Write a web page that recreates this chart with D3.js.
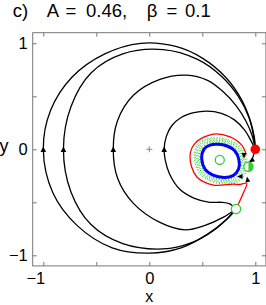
<!DOCTYPE html>
<html>
<head>
<meta charset="utf-8">
<script src="https://cdn.jsdelivr.net/npm/d3@7"></script>
<style>
  body { margin: 0; background: #fff; }
  svg text { font-family: "Liberation Sans", Arial, Helvetica, sans-serif; fill: #000; }
</style>
</head>
<body>
<svg width="266" height="305"></svg>
<script>
// trajectories (data coords), from the unstable node
// at the bottom, round the left side, to the stable node at (1,0)
var traj1 = [[0.818,-0.563],[0.72,-0.67],[0.55,-0.8],[0.3,-0.93],[0,-0.98],[-0.35,-0.93],[-0.68,-0.72],
  [-0.91,-0.41],[-1,0],[-0.93,0.37],[-0.73,0.68],[-0.42,0.9],[-0.08,1.0],[0.25,0.97],[0.5,0.86],
  [0.72,0.68],[0.87,0.47],[0.95,0.28],[0.99,0.12],[1,0]];
var traj2 = [[0.818,-0.563],[0.74,-0.65],[0.6,-0.77],[0.4,-0.88],[0.13,-0.94],[-0.25,-0.89],[-0.55,-0.71],
  [-0.74,-0.4],[-0.81,0],[-0.74,0.4],[-0.55,0.72],[-0.25,0.9],[0.13,0.94],[0.45,0.85],[0.68,0.69],
  [0.84,0.5],[0.94,0.3],[0.985,0.12],[1,0]];
var traj3 = [[0.818,-0.563],[0.7,-0.64],[0.52,-0.72],[0.34,-0.76],[0.1,-0.69],[-0.15,-0.51],[-0.3,-0.27],
  [-0.34,0],[-0.3,0.27],[-0.15,0.51],[0.1,0.66],[0.35,0.7],[0.55,0.65],[0.7,0.54],[0.82,0.41],
  [0.91,0.27],[0.97,0.13],[1,0]];
var traj4 = [[0.818,-0.563],[0.76,-0.515],[0.68,-0.5],[0.57,-0.5],[0.42,-0.46],[0.29,-0.38],[0.19,-0.23],
  [0.15,-0.1],[0.14,0],[0.16,0.12],[0.21,0.22],[0.3,0.3],[0.42,0.345],[0.54,0.36],[0.68,0.34],
  [0.8,0.28],[0.9,0.18],[0.96,0.08],[1,0]];
var trajectories = [traj1, traj2, traj3, traj4];
var startX = [-1, -0.81, -0.34, 0.14];

// stable limit cycle (blue)
var cycle = [[0.494,-0.082],[0.516,0.002],[0.573,0.04],[0.648,0.047],[0.733,0.031],[0.808,-0.016],
  [0.846,-0.101],[0.842,-0.186],[0.790,-0.248],[0.705,-0.265],[0.601,-0.243],[0.525,-0.186]];
var cycleCentre = [0.67, -0.105];
var noiseRings = [0.96, 1.05, 1.12, 1.19, 1.26, 1.33, 1.4];

// unstable manifold (red), from the bottom node round the cycle
var manifold = [[0.818,-0.563],[0.886,-0.415],[0.919,-0.32],[0.856,-0.332],[0.792,-0.328],[0.604,-0.337],
  [0.447,-0.259],[0.384,-0.07],[0.431,0.056],[0.604,0.144],[0.761,0.118],[0.872,0.04],[0.915,-0.05]];
var saddleLink = [[1,0],[0.975,-0.08],[0.935,-0.165]];

var stableNode = [1.0, 0.0];
var saddle = [0.935, -0.165];
var unstableNode = [0.818, -0.563];
var focus = [0.665, -0.1];
var saddleArrows = [[0.893,-0.058,90],[0.964,-0.106,150],[0.856,-0.257,180],[0.926,-0.285,-100]];

var ticks = [-1, -0.5, 0, 0.5, 1];

var svg = d3.select("svg");
var x = d3.scaleLinear().domain([-1.1, 1.1]).range([32.7, 265.9]);
var y = d3.scaleLinear().domain([-1.1, 1.1]).range([265.9, 32.7]);

var fmt = function (d) { return Number.isInteger(d) ? (d < 0 ? "\u2212" + (-d) : d) : ""; };

// axes, ticks inward on all sides
var gx = svg.append("g").attr("transform", "translate(0," + y(-1.1) + ")")
  .call(d3.axisBottom(x).tickValues(ticks).tickSize(-4).tickSizeOuter(0).tickPadding(6).tickFormat(fmt));
gx.selectAll("text").attr("font-size", 16.5).attr("dx", function (d) { return d < 0 ? -8 : 0; });
var gy = svg.append("g").attr("transform", "translate(" + x(-1.1) + ",0)")
  .call(d3.axisLeft(y).tickValues(ticks).tickSize(-4).tickSizeOuter(0).tickPadding(5).tickFormat(fmt));
gy.selectAll("text").attr("font-size", 16.5);
svg.append("g").attr("transform", "translate(0," + y(1.1) + ")")
  .call(d3.axisTop(x).tickValues(ticks).tickSize(-4).tickSizeOuter(0).tickFormat(""));
svg.append("g").attr("transform", "translate(" + x(1.1) + ",0)")
  .call(d3.axisRight(y).tickValues(ticks).tickSize(-4).tickSizeOuter(0).tickFormat(""));
svg.selectAll(".domain").remove();
svg.selectAll(".tick line").attr("stroke", "#777");
svg.append("rect").attr("x", x(-1.1)).attr("y", y(1.1))
  .attr("width", x(1.1) - x(-1.1)).attr("height", y(-1.1) - y(1.1))
  .attr("fill", "none").attr("stroke", "#777").attr("stroke-width", 1);

var line = d3.line().x(function (d) { return x(d[0]); }).y(function (d) { return y(d[1]); })
  .curve(d3.curveCatmullRom.alpha(0.5));

// origin marker
svg.append("path").attr("d", "M" + (x(0) - 3) + "," + y(0) + "h6M" + x(0) + "," + (y(0) - 3) + "v6")
  .attr("stroke", "#888").attr("stroke-width", 1);

svg.append("g").selectAll("path").data(trajectories).enter().append("path")
  .attr("d", line).attr("fill", "none").attr("stroke", "#000").attr("stroke-width", 1.3);

svg.append("g").selectAll("path").data(startX).enter().append("path")
  .attr("d", "M0,-3.2L2.8,2.2L-2.8,2.2Z")
  .attr("transform", function (d) { return "translate(" + x(d) + "," + (y(0) + 0.5) + ")"; })
  .attr("fill", "#000");

// noisy orbit around the cycle, drawn as dotted rings
var ring = d3.line().curve(d3.curveCardinalClosed);
svg.append("g").selectAll("path").data(noiseRings).enter().append("path")
  .attr("d", function (s) {
    return ring(cycle.map(function (p) {
      return [x(cycleCentre[0] + (p[0] - cycleCentre[0]) * s), y(cycleCentre[1] + (p[1] - cycleCentre[1]) * s)];
    }));
  })
  .attr("fill", "none").attr("stroke", "#2ecc2e").attr("stroke-width", 1)
  .attr("stroke-dasharray", function (s, i) { return i % 2 ? "1 1.5" : "1.2 1.8"; });

svg.append("path")
  .attr("d", ring(cycle.map(function (p) { return [x(p[0]), y(p[1])]; })))
  .attr("fill", "none").attr("stroke", "#0000ff").attr("stroke-width", 3);

svg.append("path").attr("d", line(manifold)).attr("fill", "none").attr("stroke", "#ff0000").attr("stroke-width", 1.3);
svg.append("path").attr("d", line(saddleLink)).attr("fill", "none").attr("stroke", "#000").attr("stroke-width", 1.2);

svg.append("g").selectAll("path").data(saddleArrows).enter().append("path")
  .attr("d", "M3,0L-2.5,2.5L-2.5,-2.5Z")
  .attr("transform", function (d) { return "translate(" + x(d[0]) + "," + y(d[1]) + ") rotate(" + d[2] + ")"; })
  .attr("fill", "#000");

// fixed points
svg.append("circle").attr("cx", x(focus[0])).attr("cy", y(focus[1])).attr("r", 4.5)
  .attr("fill", "none").attr("stroke", "#33cc33").attr("stroke-width", 1.3);
svg.append("circle").attr("cx", x(unstableNode[0])).attr("cy", y(unstableNode[1])).attr("r", 4.6)
  .attr("fill", "#fff").attr("stroke", "#33cc33").attr("stroke-width", 1.3);
svg.append("circle").attr("cx", x(saddle[0])).attr("cy", y(saddle[1])).attr("r", 4.6)
  .attr("fill", "#fff").attr("stroke", "#33cc33").attr("stroke-width", 1.3);
svg.append("path")
  .attr("d", "M" + x(saddle[0]) + "," + (y(saddle[1]) - 4.6) + "A4.6,4.6 0 0,1 " + x(saddle[0]) + "," + (y(saddle[1]) + 4.6) + "Z")
  .attr("fill", "#33cc33");
svg.append("circle").attr("cx", x(stableNode[0])).attr("cy", y(stableNode[1])).attr("r", 4.8)
  .attr("fill", "#ff0000");

// title and axis labels
var title = [["c)", 12.7], ["A", 46.7], ["=", 65.5], ["0.46,", 86], ["\u03b2", 146.7], ["=", 166.5], ["0.1", 185]];
svg.append("g").selectAll("text").data(title).enter().append("text")
  .attr("x", function (d) { return d[1]; }).attr("y", 16.7).attr("font-size", 18.5)
  .text(function (d) { return d[0]; });
svg.append("text").attr("x", x(0)).attr("y", 301.5).attr("text-anchor", "middle").attr("font-size", 16).text("x");
svg.append("text").attr("x", -0.5).attr("y", 152).attr("font-size", 18).text("y");
</script>
</body>
</html>
